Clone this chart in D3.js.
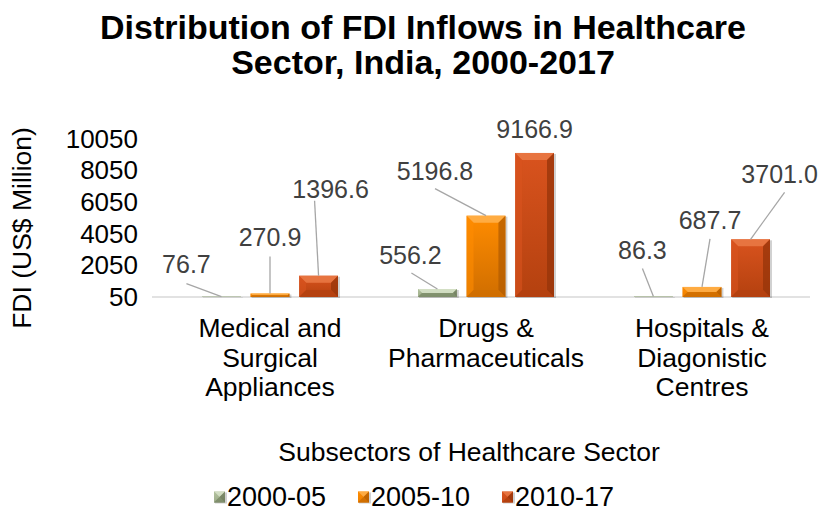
<!DOCTYPE html>
<html>
<head>
<meta charset="utf-8">
<script src="https://cdn.jsdelivr.net/npm/d3@7/dist/d3.min.js"></script>
<style>
  html, body { margin: 0; padding: 0; background: #fff; }
  svg { display: block; font-family: "Liberation Sans", Arial, sans-serif; }
</style>
</head>
<body>
<svg id="chart" width="829" height="512"></svg>
<script>
// ---- data ----
const categories = [
  ["Medical and", "Surgical", "Appliances"],
  ["Drugs &", "Pharmaceuticals"],
  ["Hospitals &", "Diagonistic", "Centres"]
];
const categoryKeys = ["Medical and Surgical Appliances", "Drugs & Pharmaceuticals", "Hospitals & Diagonistic Centres"];
const seriesNames = ["2000-05", "2005-10", "2010-17"];
const values2000_05 = [76.7, 556.2, 86.3];
const values2005_10 = [270.9, 5196.8, 687.7];
const values2010_17 = [1396.6, 9166.9, 3701.0];
const yTicks = [50, 2050, 4050, 6050, 8050, 10050];

// label placement (layout): [dx, dy] of label centre relative to bar top-centre, leader flag
const labelOffsets = [
  [[-35, -32, 1], [-27, -34, 1], [-11, -46, 1]],
  [[0, -56, 1], [-51, -44, 1], [8, -67, 1]],
  [[12, -86, 1], [0, -24, 0], [29, -65, 1]]
];
const leaderStart = [
  [[0, 19], [1, 18], [0, 18]],
  [[0, 19], [0, 17], [0, 19]],
  [[-16, 11], [0, 0], [5, 18]]
];

const seriesValues = [values2000_05, values2005_10, values2010_17];
const palette = [
  { main: "#b3c29f", light: "#d9e4cb", dark: "#7f8e6c", side: "#6c7a5b" },
  { main: "#ff8c00", light: "#ffb24d", dark: "#d06e00", side: "#b35c00" },
  { main: "#d9531e", light: "#ea7a47", dark: "#b4410f", side: "#96340a" }
];

const svg = d3.select("#chart");
const defs = svg.append("defs");
palette.forEach((p, i) => {
  const g = defs.append("linearGradient").attr("id", "grad" + i)
    .attr("x1", 0).attr("y1", 0).attr("x2", 0).attr("y2", 1);
  g.append("stop").attr("offset", "0%").attr("stop-color", p.main);
  g.append("stop").attr("offset", "100%").attr("stop-color", p.dark);
});

const plot = { left: 162, right: 810, top: 139, bottom: 297 };

const x0 = d3.scaleBand().domain(categoryKeys).range([plot.left, plot.right]).paddingInner(0).paddingOuter(0);
const x1 = d3.scaleBand().domain(seriesNames).range([40, 176]).paddingInner(0.2).paddingOuter(0);
const y = d3.scaleLinear().domain([50, 10050]).range([plot.bottom, plot.top]);

// title
const title = svg.append("text").attr("text-anchor", "middle").attr("font-weight", "bold")
  .attr("font-size", 34).attr("fill", "#000");
title.append("tspan").attr("x", 423).attr("y", 39).text("Distribution of FDI Inflows in Healthcare");
title.append("tspan").attr("x", 423).attr("y", 74).text("Sector, India, 2000-2017");

// y axis (labels only)
const yAxis = d3.axisLeft(y).tickValues(yTicks).tickSize(0).tickPadding(0).tickFormat(d3.format("d"));
const yg = svg.append("g").attr("transform", `translate(138,0)`).call(yAxis);
yg.select(".domain").remove();
yg.selectAll("text").attr("font-size", 26).attr("fill", "#000")
  .attr("font-family", "Liberation Sans, Arial, sans-serif");

// y title
svg.append("text").attr("transform", "translate(31,228) rotate(-90)")
  .attr("text-anchor", "middle").attr("font-size", 26.5).attr("fill", "#000")
  .text("FDI (US$ Million)");

// baseline gridline
svg.append("line").attr("x1", 152).attr("x2", plot.right)
  .attr("y1", y(50)).attr("y2", y(50)).attr("stroke", "#d9d9d9").attr("stroke-width", 1.5);

// bars
function drawBar(g, xL, w, yTop, yBot, p, gi) {
  const h = yBot - yTop;
  const b = Math.min(7, h / 2, w / 2);
  g.append("rect").attr("x", xL + 1).attr("y", yTop + 1).attr("width", w + 1).attr("height", h)
    .attr("fill", "#000").attr("opacity", 0.18);
  g.append("rect").attr("x", xL).attr("y", yTop).attr("width", w).attr("height", h)
    .attr("fill", `url(#grad${gi})`);
  g.append("path").attr("d", `M${xL},${yTop}L${xL + w},${yTop}L${xL + w - b},${yTop + b}L${xL + b},${yTop + b}Z`)
    .attr("fill", p.light).attr("opacity", 0.85);
  g.append("path").attr("d", `M${xL},${yTop}L${xL + b},${yTop + b}L${xL + b},${yBot - b}L${xL},${yBot}Z`)
    .attr("fill", p.main).attr("opacity", 0.6);
  g.append("path").attr("d", `M${xL + w},${yTop}L${xL + w - b},${yTop + b}L${xL + w - b},${yBot - b}L${xL + w},${yBot}Z`)
    .attr("fill", p.side).attr("opacity", 0.75);
  g.append("path").attr("d", `M${xL},${yBot}L${xL + b},${yBot - b}L${xL + w - b},${yBot - b}L${xL + w},${yBot}Z`)
    .attr("fill", p.dark).attr("opacity", 0.85);
}

const barsG = svg.append("g");
const labelsG = svg.append("g");
categoryKeys.forEach((cat, ci) => {
  seriesNames.forEach((s, si) => {
    const v = seriesValues[si][ci];
    const xL = x0(cat) + x1(s);
    const w = x1.bandwidth();
    const yTop = y(v);
    const yBot = y(50);
    drawBar(barsG.append("g"), xL, w, yTop, yBot, palette[si], si);
    const cx = xL + w / 2;
    const off = labelOffsets[si][ci];
    const lx = cx + off[0], ly = yTop + off[1];
    if (off[2]) {
      const ls = leaderStart[si][ci];
      labelsG.append("line").attr("x1", lx + ls[0]).attr("y1", ly + ls[1])
        .attr("x2", cx).attr("y2", yTop).attr("stroke", "#a6a6a6").attr("stroke-width", 1.3);
    }
    labelsG.append("text").attr("x", lx).attr("y", ly).attr("dy", "0.35em")
      .attr("text-anchor", "middle").attr("font-size", 25).attr("fill", "#404040")
      .text(v.toFixed(1));
  });
});

// category labels
categoryKeys.forEach((cat, ci) => {
  const t = svg.append("text").attr("text-anchor", "middle").attr("font-size", 26.5).attr("fill", "#000");
  categories[ci].forEach((line, li) => {
    t.append("tspan").attr("x", x0(cat) + x0.bandwidth() / 2).attr("y", 337 + li * 29.5).text(line);
  });
});

// x title
svg.append("text").attr("x", 469).attr("y", 461).attr("text-anchor", "middle")
  .attr("font-size", 26.5).attr("fill", "#000").text("Subsectors of Healthcare Sector");

// legend
const legendX = [214, 358, 502];
seriesNames.forEach((s, i) => {
  const g = svg.append("g").attr("transform", `translate(${legendX[i]},497)`);
  drawBar(g, 0, 11, -5.5, 5.5, palette[i], i);
  g.append("text").attr("x", 13).attr("y", 0).attr("dy", "0.35em").attr("font-size", 27)
    .attr("fill", "#000").text(s);
});
</script>
</body>
</html>
